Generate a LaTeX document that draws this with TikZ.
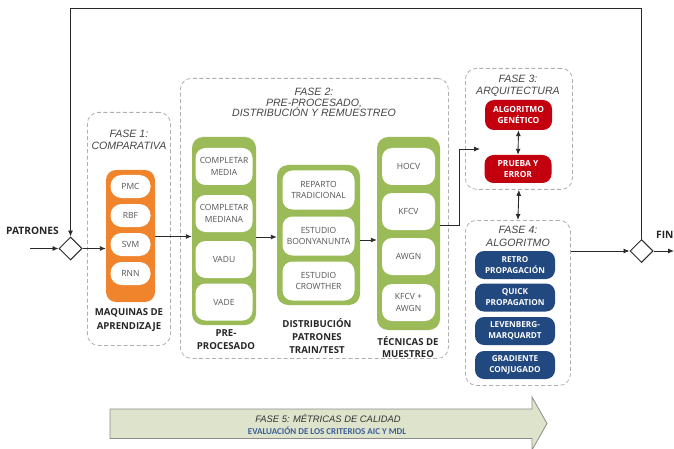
\documentclass[tikz,border=0pt]{standalone}
\usepackage{fontspec}
\setmainfont{Open Sans}
\newfontfamily\titlefont{Liberation Sans}
\newfontfamily\carl{Carlito}
\usetikzlibrary{arrows.meta,shapes.geometric,calc}
\definecolor{orng}{HTML}{F0842C}
\definecolor{grn}{HTML}{9BBB59}
\definecolor{rd}{HTML}{C2000E}
\definecolor{blu}{HTML}{21487F}
\definecolor{dash}{HTML}{AFAFAF}
\definecolor{pilltxt}{HTML}{555555}
\definecolor{ttl}{HTML}{444444}
\definecolor{f5fill}{HTML}{DEE4CB}
\definecolor{f5txt}{HTML}{3D5E9C}
\definecolor{ln}{HTML}{2A2A2A}
\begin{document}
\begin{tikzpicture}[x=1pt,y=-1pt,
  phase/.style={draw=dash,dash pattern=on 4pt off 2.5pt,line width=0.8pt,rounded corners=11pt},
  ttlstyle/.style={font=\titlefont\itshape\fontsize{10.6}{10.8}\selectfont,text=ttl,align=center,inner sep=0pt},
  obox/.style={fill=orng,rounded corners=10pt,minimum width=49pt,minimum height=132pt,inner sep=0pt},
  gbox/.style={fill=grn,rounded corners=11pt,inner sep=0pt},
  pill/.style={fill=white,rounded corners=10pt,inner sep=0pt,align=center,text=pilltxt,font=\fontsize{8.5}{11.5}\selectfont},
  rbox/.style={fill=rd,rounded corners=9pt,minimum width=67pt,inner sep=0pt,align=center,text=white,font=\bfseries\fontsize{8.4}{11.5}\selectfont},
  bbox/.style={fill=blu,rounded corners=9pt,minimum width=80pt,minimum height=28pt,inner sep=0pt,align=center,text=white,font=\bfseries\fontsize{8.2}{11}\selectfont},
  lbl/.style={font=\bfseries\fontsize{9.6}{13}\selectfont,text=black!85,align=center,inner sep=0pt},
  dia/.style={diamond,draw=ln,line width=1pt,fill=white,minimum width=23pt,minimum height=23pt,inner sep=0pt},
  conn/.style={draw=ln,line width=0.9pt,-{Latex[length=6pt,width=5pt]}},
  dconn/.style={draw=ln,line width=0.9pt,{Latex[length=6pt,width=5pt]}-{Latex[length=6pt,width=5pt]}}
]
\useasboundingbox (0,0) rectangle (674,449);

% phase boxes
\node[phase,minimum width=83pt,minimum height=233pt,anchor=north west] (f1) at (87,112) {};
\node[phase,minimum width=268pt,minimum height=280pt,anchor=north west] (f2) at (180,78) {};
\node[phase,minimum width=107pt,minimum height=121pt,anchor=north west] (f3) at (465,68) {};
\node[phase,minimum width=105pt,minimum height=165pt,anchor=north west] (f4) at (465,220) {};

% titles
\node[ttlstyle] (t1) at (129,140) {FASE 1:\\[1.5pt]COMPARATIVA};
\node[ttlstyle] (t2) at (314,102.5) {FASE 2:\\PRE-PROCESADO,\\DISTRIBUCIÓN Y REMUESTREO};
\node[ttlstyle] (t3) at (518,86) {FASE 3:\\[1pt]ARQUITECTURA};
\node[ttlstyle] (t4) at (518,236.5) {FASE 4:\\[2pt]ALGORITMO};

% Fase 1
\node[obox] (ml) at (130.5,236) {};
\foreach \t/\yy in {PMC/186.5,RBF/215.5,SVM/244.5,RNN/273.5}
  \node[pill,minimum width=40pt,minimum height=23pt,rounded corners=11pt] (m\t) at (130.5,\yy) {\t};
\node[lbl] (l1) at (129,320) {MAQUINAS DE\\[1pt]APRENDIZAJE};

% Fase 2: pre-procesado
\node[gbox,minimum width=64pt,minimum height=188pt] (pre) at (224,231) {};
\node[pill,minimum width=57pt,minimum height=37pt] (p1) at (224,166.5) {COMPLETAR\\MEDIA};
\node[pill,minimum width=57pt,minimum height=37pt] (p2) at (224,213.5) {COMPLETAR\\MEDIANA};
\node[pill,minimum width=57pt,minimum height=37pt] (p3) at (224,259.5) {VADU};
\node[pill,minimum width=57pt,minimum height=37pt] (p4) at (224,302) {VADE};
\node[lbl] (l2) at (226,340) {PRE-\\PROCESADO};

% distribucion
\node[gbox,minimum width=83pt,minimum height=140pt] (dis) at (318.5,235) {};
\node[pill,minimum width=72pt,minimum height=39pt] (d1) at (318.5,190) {REPARTO\\TRADICIONAL};
\node[pill,minimum width=72pt,minimum height=39pt] (d2) at (318.5,236) {ESTUDIO\\BOONYANUNTA};
\node[pill,minimum width=72pt,minimum height=39pt] (d3) at (318.5,281) {ESTUDIO\\CROWTHER};
\node[lbl] (l3) at (317,336) {DISTRIBUCIÓN\\PATRONES\\TRAIN/TEST};

% tecnicas
\node[gbox,minimum width=63pt,minimum height=193pt] (tec) at (408.5,233.5) {};
\node[pill,minimum width=53pt,minimum height=37pt] (k1) at (408.5,166.5) {HOCV};
\node[pill,minimum width=53pt,minimum height=37pt] (k2) at (408.5,211.5) {KFCV};
\node[pill,minimum width=53pt,minimum height=37pt] (k3) at (408.5,256.5) {AWGN};
\node[pill,minimum width=53pt,minimum height=37pt] (k4) at (408.5,302.5) {KFCV +\\AWGN};
\node[lbl,font=\bfseries\fontsize{9.6}{12}\selectfont] (l4) at (408,347.5) {TÉCNICAS DE\\MUESTREO};

% Fase 3
\node[rbox,minimum height=30pt] (ag) at (518.5,115) {ALGORITMO\\GENÉTICO};
\node[rbox,minimum height=28pt] (pe) at (518,169) {PRUEBA Y\\ERROR};

% Fase 4
\node[bbox] (b1) at (515,265) {RETRO\\PROPAGACIÓN};
\node[bbox] (b2) at (515,297.5) {QUICK\\PROPAGATION};
\node[bbox] (b3) at (515,331) {LEVENBERG-\\MARQUARDT};
\node[bbox] (b4) at (515,365) {GRADIENTE\\CONJUGADO};

% diamonds and labels
\node[dia] (ld) at (70.5,248.5) {};
\node[dia] (rd) at (641.5,251) {};
\node[lbl,anchor=west,font=\bfseries\fontsize{10.2}{13}\selectfont] (pat) at (6,230.5) {PATRONES};
\node[lbl,anchor=west,font=\bfseries\fontsize{10.2}{13}\selectfont] (fin) at (656,234.5) {FIN};
\coordinate (in) at (30,248.5);
\coordinate (out) at (674,251);
\coordinate (tl) at (70.5,8);
\coordinate (tr) at (641.5,8);
\coordinate (f3in) at (480,149);
\coordinate (bend) at (459,225);

% connectors
\draw[conn] (in) -- (ld.west);
\draw[conn] (ld.east) -- (ld.east -| ml.west);
\draw[conn] (ml.east |- 0,236.5) -- (pre.west |- 0,236.5);
\draw[conn] (pre.east |- 0,237) -- (dis.west |- 0,237);
\draw[conn] (dis.east |- 0,240) -- (tec.west |- 0,240);
\draw[conn] (tec.east |- bend) -- (bend) |- (f3in);
\draw[dconn] (ag.south) -- (pe.north);
\draw[dconn] (f3.south) -- (f4.north);
\draw[conn] (f4.east |- rd) -- (rd.west);
\draw[conn] (rd.east) -- (out);
\draw[conn] (rd.north) -- (tr) -- (tl) -- (ld.north);

% Fase 5 arrow
\draw[draw=black!45,line width=0.8pt,fill=f5fill] (110,409) -- (532,409) -- (532,397) -- (547,423.5) -- (532,450) -- (532,438.5) -- (110,438.5) -- cycle;
\node[inner sep=0pt,font=\titlefont\itshape\fontsize{9.4}{10}\selectfont,text=black!80] (f5) at (328,418) {FASE 5: MÉTRICAS DE CALIDAD};
\node[inner sep=0pt,font=\carl\bfseries\fontsize{9}{9}\selectfont,text=f5txt] (f5s) at (327,431) {EVALUACIÓN DE LOS CRITERIOS AIC Y MDL};
\end{tikzpicture}
\end{document}
